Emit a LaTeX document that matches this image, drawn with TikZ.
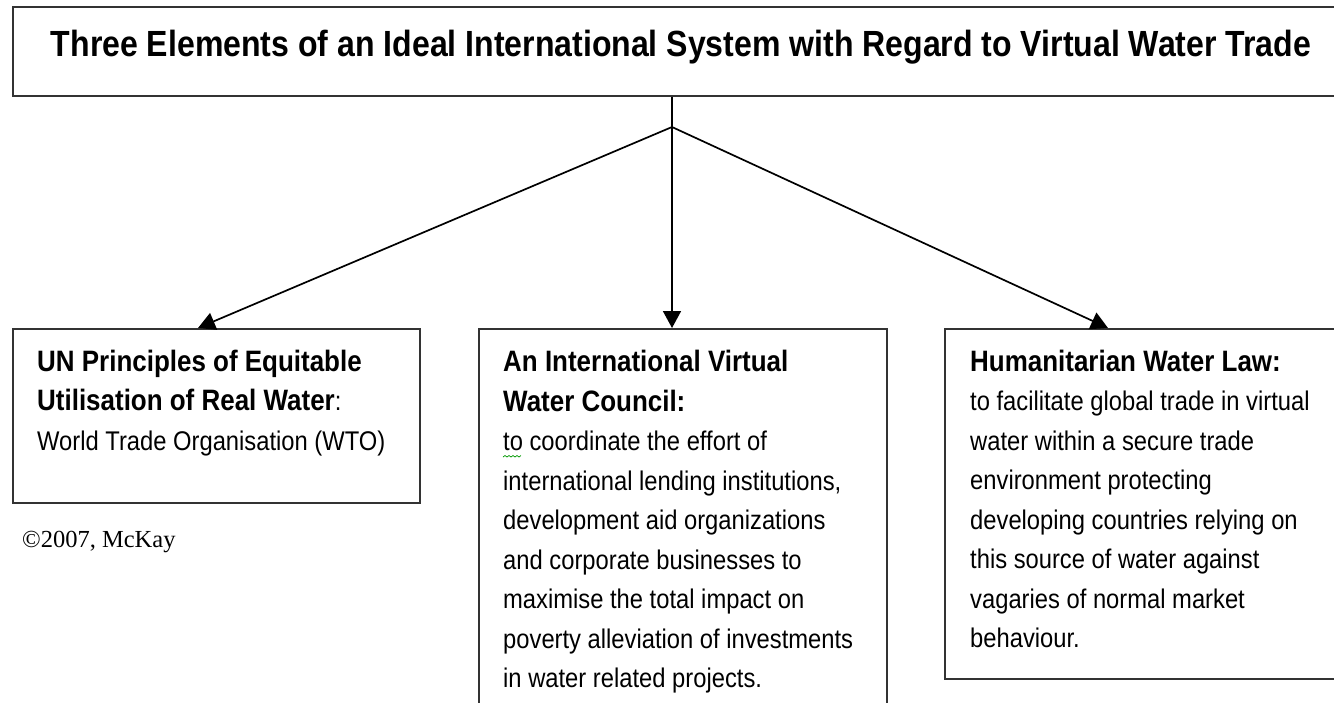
\documentclass[tikz,border=0pt]{standalone}
\usepackage{fontspec}
\setmainfont{Liberation Sans}[FakeStretch=0.88]
\newfontfamily\serf{Liberation Serif}
\usetikzlibrary{arrows.meta}
\newcommand\hdf{\fontsize{29.5}{39.5}\selectfont\bfseries}
\newcommand\bdf{\fontsize{27}{39.5}\selectfont\mdseries}
\newcommand\natsp{\spaceskip=0pt\xspaceskip=0pt\raggedright}
\begin{document}
\begin{tikzpicture}[x=1pt,y=-1pt,
  box/.style={draw=black!80,line width=1.5pt,inner sep=0pt,anchor=north west},
  arr/.style={draw=black,line width=1.7pt,-{Triangle[length=17pt,width=18pt]}},
  txt/.style={anchor=base west,inner sep=0pt,text width=400pt,font=\bdf},
]
\useasboundingbox (0,0) rectangle (1334,702);
\fill[white] (0,0) rectangle (1334,702);
\clip (0,0) rectangle (1334,702);

% boxes
\node[box,minimum width=1340pt,minimum height=89pt] (title) at (12,6) {};
\node[box,minimum width=407pt,minimum height=174pt] (left) at (12,328) {};
\node[box,minimum width=408pt,minimum height=400pt] (mid) at (478,328) {};
\node[box,minimum width=400pt,minimum height=350pt] (right) at (944,328) {};

% texts
\node[anchor=base,inner sep=0pt,font=\fontsize{36.4}{40}\selectfont\bfseries] (tt) at (681,56)
  {Three Elements of an Ideal International System with Regard to Virtual Water Trade};

\node[txt] (lt) at (37,371)
  {\natsp\hdf UN Principles of Equitable\\Utilisation of Real Water\bdf:\\World Trade Organisation (WTO)\par};

\node[txt] (mt) at (503,371.5)
  {\natsp\hdf An International Virtual\\Water Council:\\\bdf to coordinate the effort of\\international lending institutions,\\development aid organizations\\and corporate businesses to\\maximise the total impact on\\poverty alleviation of investments\\in water related projects.\par};

\node[txt] (rt) at (970,371)
  {\natsp\hdf Humanitarian Water Law:\\\bdf to facilitate global trade in virtual\\water within a secure trade\\environment protecting\\developing countries relying on\\this source of water against\\vagaries of normal market\\behaviour.\par};

\node[anchor=base west,inner sep=0pt,font=\serf\fontsize{24.5}{28}\selectfont] (cp) at (22,547) {©2007, McKay};

% spell-check squiggle under "to"
\draw[green!60!black,line width=0.7pt] (503,457) -- (505,455.5) -- (507,457) -- (509,455.5) -- (511,457) -- (513,455.5) -- (515,457) -- (517,455.5) -- (519,457) -- (521,455.5);

% connectors
\coordinate (j) at (672,127);
\draw[line width=1.7pt] (title.south -| j) -- (j);
\draw[arr] (j) -- (j |- mid.north);
\draw[arr] (j) -- ([xshift=186pt]left.north west);
\draw[arr] (j) -- ([xshift=164pt]right.north west);
\end{tikzpicture}
\end{document}
